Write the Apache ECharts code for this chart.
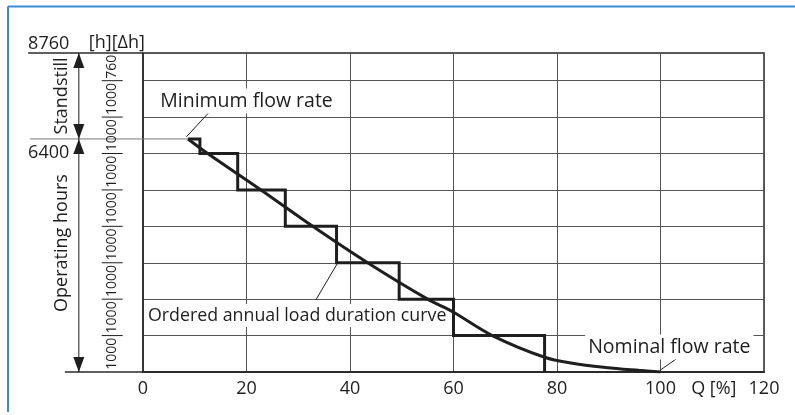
<!DOCTYPE html>
<html><head><meta charset="utf-8">
<script src="https://cdn.jsdelivr.net/npm/echarts@6/dist/echarts.min.js"></script>
<style>html,body{margin:0;padding:0;background:#fff}#c{width:795px;height:415px}</style>
</head><body><div id="c"></div>
<script>
// ---- data ----
const xTicks = [0, 20, 40, 60, 80, 100, 120];
const hourTotal = 8760;
const hourOperating = 6400;
const deltaH = [1000, 1000, 1000, 1000, 1000, 1000, 1000, 1000, 760];
// ordered annual load duration curve (steps)
const stepQ = [8.7, 11, 18.3, 27.5, 37.4, 49.5, 60, 77.6];
const stepH = [6400, 6000, 5000, 4000, 3000, 2000, 1000, 0];
// smooth load duration curve
const curveQ = [8.7, 12.5, 22.8, 32.8, 43.4, 55, 60, 67.5, 77.6, 83, 89.4, 95.8, 100];
const curveH = [6400, 6000, 5000, 4000, 3000, 2000, 1640, 1000, 404, 240, 125, 45, 0];

const FONT = "'Open Sans', sans-serif";
const INK = '#1e1e1e';

function renderAnnot(params, api) {
  const c = (x, y) => api.coord([x, y]);
  const ch = [];
  const line = (a, b, stroke, w) => {
    const p = c(a[0], a[1]), q = c(b[0], b[1]);
    ch.push({type: 'line', shape: {x1: p[0], y1: p[1], x2: q[0], y2: q[1]},
      style: {stroke: stroke || INK, lineWidth: w || 1}});
  };
  const text = (x, y, s, opt) => {
    opt = opt || {};
    const p = c(x, y);
    ch.push({type: 'text', x: p[0], y: p[1], rotation: opt.rot || 0,
      style: Object.assign({text: s, font: (opt.size || 18) + 'px ' + FONT, fill: INK,
        align: opt.align || 'center', verticalAlign: opt.va || 'middle'}, opt.extra || {})});
  };
  const arrow = (x, yTip, dir) => { // dir: -1 up, +1 down (screen)
    const t = c(x, yTip);
    const L = 15, W = 5.5;
    ch.push({type: 'polygon', shape: {points: [[t[0], t[1]], [t[0] - W, t[1] - dir * L], [t[0] + W, t[1] - dir * L]]},
      style: {fill: INK}});
  };
  // left extensions of reference lines
  line([-22.2, hourTotal], [0, hourTotal], '#2a2a2a', 1.5);
  line([-21.8, hourOperating], [curveQ[0], hourOperating], '#777', 1);
  line([-15.1, 0], [0, 0], '#2a2a2a', 1.5);
  // dimension arrows
  const ax = -12.4;
  line([ax, hourTotal], [ax, hourOperating], INK, 1);
  line([ax, hourOperating], [ax, 0], INK, 1);
  arrow(ax, hourTotal, -1);
  arrow(ax, hourOperating, 1);
  arrow(ax, hourOperating, -1);
  arrow(ax, 0, 1);
  text(-15.6, (hourTotal + hourOperating) / 2, 'Standstill', {rot: Math.PI / 2});
  text(-15.6, 3542, 'Operating hours', {rot: Math.PI / 2});
  // hour labels
  text(-22.2, 9020, String(hourTotal), {align: 'left'});
  text(-22.2, 6013, String(hourOperating), {align: 'left'});
  text(-5.05, 9034, '[h][\u0394h]');
  // delta-h column
  let b = 0;
  deltaH.forEach((d, i) => {
    text(-5.94, b + d / 2, String(d), {rot: Math.PI / 2, size: 14});
    b += d;
    if (i < deltaH.length - 1) line([-7.98, b], [-3.92, b], INK, 1);
  });
  // x axis name
  text(110.3, -455, 'Q [%]');
  // annotations with leaders
  const box = {backgroundColor: '#fff', padding: [3, 3, 2, 3]};
  line([8.4, 6460], [12.9, 7150], INK, 1);
  text(20.0, 7441, 'Minimum flow rate', {extra: box, size: 19.5});
  line([37.6, 2990], [33.4, 1980], INK, 1);
  text(29.8, 1551, 'Ordered annual load duration curve', {extra: box, size: 17.8});
  line([100, 55], [103.5, 404], INK, 1);
  text(101.7, 686, 'Nominal flow rate', {extra: box, size: 19.5});
  return {type: 'group', children: ch};
}

const chart = echarts.init(document.getElementById('c'), null, {renderer: 'canvas'});
chart.setOption({
  animation: false,
  backgroundColor: '#fff',
  grid: {left: 143, right: 31, top: 53, bottom: 43, show: true, borderColor: '#2a2a2a', borderWidth: 1.5,
    containLabel: false, outerBoundsMode: 'none'},
  xAxis: {type: 'value', min: xTicks[0], max: xTicks[xTicks.length - 1], interval: 20,
    axisLine: {show: true, lineStyle: {color: '#2a2a2a', width: 2}},
    axisTick: {show: false},
    axisLabel: {color: INK, fontFamily: 'Open Sans', fontSize: 18, margin: 8},
    splitLine: {show: true, lineStyle: {color: '#555', width: 1}}},
  yAxis: {type: 'value', min: 0, max: hourTotal, interval: 1000,
    axisLine: {show: true, lineStyle: {color: '#2a2a2a', width: 1.5}},
    axisTick: {show: false}, axisLabel: {show: false},
    splitLine: {show: true, lineStyle: {color: '#555', width: 1}}},
  graphic: [
    {type: 'line', shape: {x1: 8, y1: 6.5, x2: 795, y2: 6.5}, style: {stroke: '#3b8ad2', lineWidth: 2}},
    {type: 'line', shape: {x1: 8, y1: 6.5, x2: 8, y2: 412}, style: {stroke: '#3b8ad2', lineWidth: 2}}
  ],
  series: [
    {type: 'custom', name: 'annot', z: 1, renderItem: renderAnnot, data: [[0, 0]], clip: false, silent: true},
    {type: 'line', name: 'curve', z: 3, data: curveQ.map((q, i) => [q, curveH[i]]), smooth: 0.35,
      symbol: 'none', lineStyle: {color: INK, width: 3}},
    {type: 'line', name: 'steps', z: 3, data: stepQ.map((q, i) => [q, stepH[i]]), step: 'end',
      symbol: 'none', lineStyle: {color: INK, width: 3, join: 'miter'}}
  ]
});
</script></body></html>
